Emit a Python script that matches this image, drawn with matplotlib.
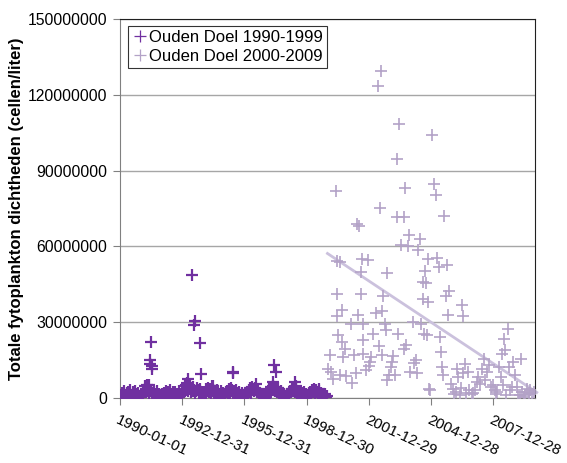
import numpy as np
import pandas as pd
import matplotlib
matplotlib.use('Agg')
import matplotlib.pyplot as plt

plt.rcParams['font.family'] = ['Liberation Sans', 'DejaVu Sans']

# Ouden Doel 1990-1999, two samples per month (1st and 15th), millions cells/liter
dark_base = [
    1.2, 0.6, 2.1, 0.8, 1.5, 2.8, 1.0, 0.4, 1.9, 2.5, 0.7, 1.3, 3.0, 1.1, 0.5, 2.2, 1.6, 0.9, 2.6, 1.4, 0.6, 1.8, 0.8, 0.3,
    0.5, 1.2, 0.8, 1.9, 2.6, 4.8, 3.5, 5.2, 2.8, 4.1, 1.5, 2.9, 3.3, 1.1, 0.9, 2.4, 1.7, 0.6, 1.3, 2.7, 0.8, 1.6, 0.4, 1.0,
    0.7, 1.4, 0.5, 2.0, 1.1, 2.9, 1.8, 0.6, 2.4, 1.2, 3.1, 0.9, 1.7, 2.5, 0.8, 1.3, 2.2, 0.5, 1.6, 0.9, 2.7, 1.1, 0.6, 1.5,
    1.8, 3.2, 2.4, 4.6, 3.0, 5.1, 4.2, 2.7, 3.6, 4.9, 2.2, 3.8, 4.5, 2.9, 3.3, 1.8, 2.6, 4.0, 3.1, 1.9, 2.8, 3.5, 1.4, 2.3,
    1.2, 2.5, 0.8, 3.4, 1.9, 2.8, 4.0, 2.2, 3.6, 1.5, 4.6, 2.9, 3.3, 1.7, 2.4, 0.9, 3.0, 1.6, 2.1, 0.7, 1.4, 2.6, 0.9, 1.8,
    0.6, 1.7, 1.1, 2.3, 2.9, 1.4, 3.5, 2.0, 4.1, 2.6, 3.2, 1.8, 2.7, 1.2, 3.0, 2.1, 1.5, 0.8, 2.4, 1.3, 0.7, 1.9, 1.0, 0.5,
    0.8, 1.5, 0.4, 2.2, 1.8, 3.1, 2.5, 3.9, 2.0, 4.4, 3.3, 2.6, 4.0, 5.7, 3.5, 2.4, 2.9, 1.6, 2.1, 1.0, 1.7, 0.6, 1.3, 0.9,
    1.1, 0.5, 1.9, 1.3, 2.7, 3.4, 2.1, 4.2, 3.0, 4.8, 3.7, 2.6, 4.4, 3.1, 2.3, 3.8, 2.0, 1.4, 2.8, 1.2, 1.9, 0.7, 1.5, 0.8,
    0.6, 1.4, 0.9, 2.0, 1.7, 2.9, 2.3, 3.6, 2.8, 4.5, 3.2, 2.5, 3.9, 2.1, 2.7, 1.5, 2.2, 1.0, 1.8, 0.6, 1.3, 2.4, 0.8, 1.6,
    0.5, 1.2, 0.7, 1.8, 2.5, 1.3, 3.0, 2.2, 3.6, 2.7, 2.0, 3.3, 2.4, 1.6, 2.9, 1.1, 2.1, 0.8, 1.7, 1.0, 0.6, 1.4, 0.4, 0.9,
]
dark_peak_dates = ['1991-05-20', '1991-06-05', '1991-06-20', '1991-07-01', '1991-07-10', '1991-07-25',
                   '1993-03-20', '1993-04-10', '1993-06-28', '1993-07-25', '1993-08-05', '1993-11-10',
                   '1993-12-05', '1994-07-01', '1995-06-05', '1995-06-20', '1997-05-15', '1997-06-01',
                   '1997-07-10', '1998-06-10', '1998-06-25', '1999-08-01']
dark_peak_values = [5.0, 15.2, 13.6, 22.2, 12.5, 11.6,
                    5.8, 7.7, 48.6, 28.8, 30.4, 21.8,
                    9.4, 4.6, 10.3, 9.7, 6.3, 12.9,
                    10.3, 6.3, 4.8, 3.7]

# Ouden Doel 2000-2009
light_dates = [
    '2000-01-15', '2000-02-10', '2000-03-10', '2000-04-01', '2000-06-05', '2000-06-10', '2000-06-15', '2000-06-20',
    '2000-07-10', '2000-08-01', '2000-08-10', '2000-09-05', '2000-09-15', '2000-09-25', '2000-11-01', '2000-11-15',
    '2001-02-10', '2001-03-10', '2001-04-10', '2001-05-10', '2001-06-05', '2001-06-20', '2001-07-10', '2001-08-05',
    '2001-08-15', '2001-09-01', '2001-09-10', '2001-09-20', '2001-09-25', '2001-11-10', '2001-12-10', '2001-12-28',
    '2002-01-10', '2002-02-10', '2002-03-10', '2002-05-10', '2002-06-05', '2002-06-20', '2002-07-10', '2002-08-01',
    '2002-08-10', '2002-08-20', '2002-09-10', '2002-10-05', '2002-10-20', '2002-11-05', '2002-11-20', '2002-12-15',
    '2003-01-15', '2003-02-10', '2003-02-20', '2003-04-10', '2003-05-01', '2003-05-10', '2003-05-20', '2003-06-10',
    '2003-07-10', '2003-09-01', '2003-09-15', '2003-10-05', '2003-10-20', '2003-11-10', '2003-12-05', '2003-12-20',
    '2004-02-10', '2004-03-10', '2004-04-05', '2004-04-20', '2004-05-10', '2004-06-10', '2004-07-10', '2004-08-01',
    '2004-08-10', '2004-08-20', '2004-09-10', '2004-10-05', '2004-10-20', '2004-11-01', '2004-11-10', '2004-11-20',
    '2004-12-10', '2005-01-10', '2005-02-10', '2005-04-01', '2005-04-15', '2005-05-10', '2005-06-05', '2005-06-20',
    '2005-07-05', '2005-07-20', '2005-08-10', '2005-09-10', '2005-10-05', '2005-10-20', '2005-11-10', '2005-12-10',
    '2006-01-10', '2006-02-10', '2006-03-10', '2006-04-05', '2006-04-20', '2006-05-15', '2006-06-10', '2006-07-01',
    '2006-07-10', '2006-07-20', '2006-08-10', '2006-09-10', '2006-10-05', '2006-10-20', '2006-12-10', '2007-01-10',
    '2007-02-10', '2007-03-10', '2007-04-10', '2007-05-10', '2007-06-10', '2007-07-10', '2007-08-10', '2007-09-10',
    '2007-10-10', '2007-11-10', '2007-12-20', '2008-01-20', '2008-02-15', '2008-03-10', '2008-04-10', '2008-05-10',
    '2008-06-05', '2008-06-20', '2008-07-01', '2008-07-15', '2008-08-10', '2008-09-10', '2008-10-05', '2008-10-20',
    '2008-11-15', '2008-12-10', '2009-01-10', '2009-02-10', '2009-03-10', '2009-04-10', '2009-05-05', '2009-05-20',
    '2009-06-15', '2009-07-10', '2009-08-10', '2009-09-15', '2009-10-10', '2009-11-10', '2009-12-10',
]
light_values = [
    11.6, 16.9, 10.3, 7.7, 82.1, 54.2, 41.3, 32.3,
    24.8, 53.8, 9.0, 34.7, 22.2, 16.2, 19.5, 8.6,
    29.4, 5.9, 17.2, 9.7, 69.0, 32.7, 68.0, 49.9,
    41.3, 54.9, 29.2, 22.8, 17.6, 11.0, 54.5, 12.5,
    14.2, 16.2, 25.5, 33.6, 123.4, 20.5, 75.3, 129.4,
    34.3, 16.9, 40.4, 29.4, 26.8, 49.5, 7.0, 9.0,
    12.3, 14.2, 16.5, 9.0, 94.6, 71.8, 25.5, 108.6,
    60.4, 71.8, 19.5, 83.3, 20.9, 60.0, 64.4, 10.3,
    30.0, 13.9, 15.2, 9.7, 58.7, 62.8, 29.2, 45.9,
    39.3, 25.5, 50.1, 45.5, 24.8, 54.9, 38.0, 3.7,
    3.0, 104.2, 84.6, 80.2, 55.5, 51.8, 24.1, 18.2,
    12.3, 9.0, 72.0, 40.3, 52.6, 32.7, 42.2, 5.7,
    3.7, 1.5, 2.4, 11.6, 8.3, 1.2, 4.0, 36.7,
    32.3, 9.7, 13.6, 2.0, 10.3, 3.0, 1.5, 1.8,
    3.0, 6.5, 8.3, 5.7, 11.6, 15.6, 7.0, 10.3,
    13.0, 4.5, 5.0, 3.0, 1.5, 2.2, 12.3, 8.3,
    17.6, 5.0, 23.5, 18.9, 1.2, 27.5, 12.3, 3.0,
    4.5, 14.2, 9.0, 4.4, 1.0, 1.0, 15.6, 2.4,
    0.5, 1.2, 3.7, 2.0, 3.0, 1.7, 2.5,
]

# linear trend of the 2000-2009 series, end points
trend_dates = ['2000-01-01', '2010-02-01']
trend_values = [57.2, 2.2]

tick_dates = ['1990-01-01', '1992-12-31', '1995-12-31', '1998-12-30',
              '2001-12-29', '2004-12-28', '2007-12-28']
y_ticks = [0, 30000000, 60000000, 90000000, 120000000, 150000000]

dark = '#7030a0'
light = '#b3a2c7'

dark_x = list(pd.date_range('1990-01-01', '1999-12-31', freq='SMS')) + list(pd.to_datetime(dark_peak_dates))
dark_y = np.array(dark_base + dark_peak_values) * 1e6
light_x = pd.to_datetime(light_dates)
light_y = np.array(light_values) * 1e6

fig = plt.figure(figsize=(5.67, 4.63), dpi=100)
ax = fig.add_axes([0.2116, 0.1404, 0.7320, 0.8186])

ax.plot(dark_x, dark_y, linestyle='none', marker='+', markersize=8.5,
        markeredgewidth=1.6, color=dark, label='Ouden Doel 1990-1999', zorder=3)
ax.plot(light_x, light_y, linestyle='none', marker='+', markersize=8.5,
        markeredgewidth=1.2, color=light, label='Ouden Doel 2000-2009', zorder=3)
ax.plot(pd.to_datetime(trend_dates), np.array(trend_values) * 1e6, color='#cbc1dd',
        linewidth=2.0, zorder=2, clip_on=False)

ax.set_xlim(pd.Timestamp('1990-01-01'), pd.Timestamp('2010-01-01'))
ax.set_ylim(0, 150000000)
ax.set_yticks(y_ticks)
ax.set_yticklabels([str(v) for v in y_ticks])
ax.set_xticks(pd.to_datetime(tick_dates))
ax.set_xticklabels(tick_dates, rotation=-25, ha='left', va='top', rotation_mode='anchor')
ax.tick_params(axis='both', labelsize=11.3, length=5, color='#808080', direction='out')
ax.tick_params(axis='x', pad=6, labelsize=10.8)
ax.tick_params(axis='y', pad=4)

ax.yaxis.grid(True, color='#a6a6a6', linewidth=1)
ax.set_axisbelow(True)
ax.spines['left'].set_color('#808080')
ax.spines['bottom'].set_color('#808080')
ax.spines['top'].set_color('#202020')
ax.spines['right'].set_color('#202020')

ax.set_ylabel('Totale fytoplankton dichtheden (cellen/liter)', fontsize=12, fontweight='bold', labelpad=3)

leg = ax.legend(loc='upper left', bbox_to_anchor=(0.02, 0.982), fontsize=12, frameon=True,
                fancybox=False, edgecolor='#000000', handlelength=0.9, handletextpad=0.1,
                borderpad=0.25, labelspacing=0.25, borderaxespad=0, markerscale=1.0)
leg.get_frame().set_linewidth(0.8)
for h in leg.legend_handles:
    h.set_markeredgewidth(0.9)

fig.savefig('out.png', dpi=100)
